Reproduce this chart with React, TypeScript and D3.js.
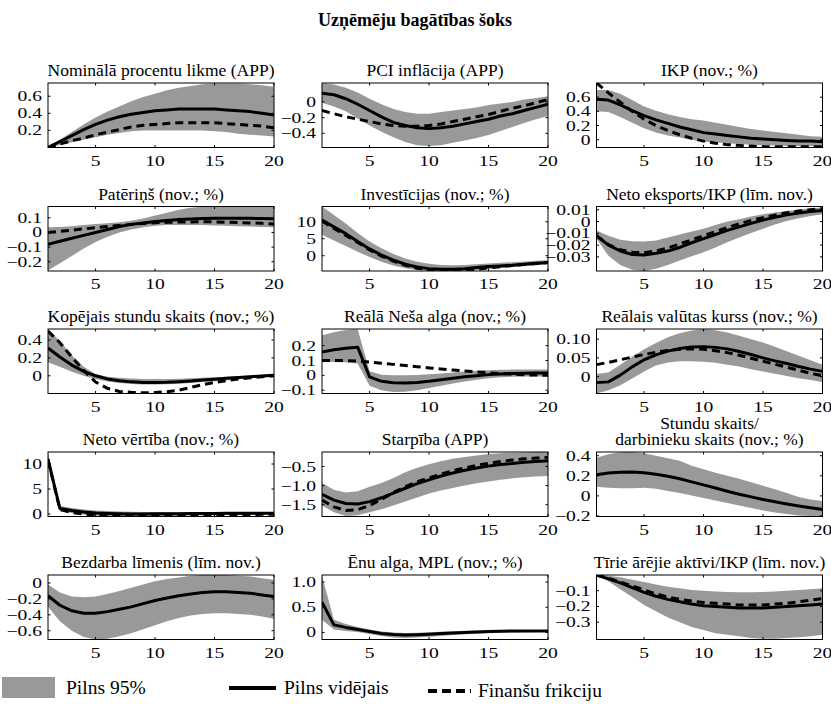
import React from 'react';
import * as d3 from 'd3';

// Horizon (quarters)
const PERIODS = [1, 2, 3, 4, 5, 6, 7, 8, 9, 10, 11, 12, 13, 14, 15, 16, 17, 18, 19, 20];
const X_TICKS = [5, 10, 15, 20];

// Nominālā procentu likme (APP)
const rateMedian = [0, 0.07, 0.14, 0.21, 0.27, 0.32, 0.36, 0.39, 0.41, 0.43, 0.44, 0.45, 0.45, 0.45, 0.45, 0.44, 0.43, 0.42, 0.40, 0.38];
const rateFriction = [0, 0.04, 0.08, 0.11, 0.15, 0.18, 0.21, 0.24, 0.26, 0.27, 0.28, 0.29, 0.29, 0.29, 0.29, 0.28, 0.27, 0.26, 0.25, 0.23];
const rateLow = [0, 0.03, 0.06, 0.09, 0.12, 0.15, 0.17, 0.19, 0.2, 0.2, 0.2, 0.2, 0.2, 0.2, 0.19, 0.18, 0.16, 0.15, 0.14, 0.13];
const rateHigh = [0, 0.09, 0.18, 0.27, 0.35, 0.42, 0.48, 0.54, 0.59, 0.63, 0.67, 0.70, 0.72, 0.74, 0.75, 0.75, 0.75, 0.74, 0.73, 0.71];
const rateRange = [0, 0.755];
const rateTicks = [0.2, 0.4, 0.6];
const rateTickLabels = ['0.2', '0.4', '0.6'];

// PCI inflācija (APP)
const cpiMedian = [0.11, 0.09, 0.04, -0.03, -0.11, -0.19, -0.26, -0.30, -0.33, -0.34, -0.33, -0.31, -0.28, -0.25, -0.22, -0.18, -0.15, -0.11, -0.07, -0.03];
const cpiFriction = [-0.11, -0.15, -0.19, -0.22, -0.25, -0.28, -0.30, -0.31, -0.31, -0.30, -0.28, -0.25, -0.22, -0.19, -0.16, -0.12, -0.08, -0.05, -0.01, 0.03];
const cpiLow = [-0.01, -0.06, -0.12, -0.21, -0.30, -0.38, -0.45, -0.51, -0.55, -0.56, -0.55, -0.52, -0.49, -0.46, -0.42, -0.37, -0.32, -0.27, -0.22, -0.18];
const cpiHigh = [0.24, 0.22, 0.18, 0.12, 0.04, -0.03, -0.09, -0.13, -0.15, -0.15, -0.13, -0.11, -0.09, -0.07, -0.04, -0.02, 0.0, 0.03, 0.05, 0.07];
const cpiRange = [-0.58, 0.24];
const cpiTicks = [-0.4, -0.2, 0];
const cpiTickLabels = ['−0.4', '−0.2', '0'];

// IKP (nov.; %)
const gdpMedian = [0.57, 0.56, 0.49, 0.41, 0.34, 0.28, 0.23, 0.18, 0.14, 0.10, 0.08, 0.06, 0.04, 0.02, 0.01, 0.0, -0.01, -0.02, -0.02, -0.03];
const gdpFriction = [0.8, 0.66, 0.53, 0.40, 0.29, 0.20, 0.13, 0.07, 0.02, -0.02, -0.05, -0.07, -0.08, -0.09, -0.1, -0.1, -0.1, -0.1, -0.1, -0.1];
const gdpLow = [0.40, 0.39, 0.32, 0.24, 0.16, 0.10, 0.06, 0.03, 0.0, -0.03, -0.04, -0.05, -0.06, -0.07, -0.08, -0.08, -0.09, -0.09, -0.09, -0.09];
const gdpHigh = [0.70, 0.70, 0.65, 0.56, 0.47, 0.41, 0.36, 0.32, 0.29, 0.27, 0.24, 0.21, 0.18, 0.15, 0.13, 0.11, 0.09, 0.07, 0.05, 0.04];
const gdpRange = [-0.11, 0.8];
const gdpTicks = [0, 0.2, 0.4, 0.6];
const gdpTickLabels = ['0', '0.2', '0.4', '0.6'];

// Patēriņš (nov.; %)
const consMedian = [-0.08, -0.06, -0.04, -0.02, 0.0, 0.02, 0.04, 0.055, 0.065, 0.075, 0.082, 0.088, 0.092, 0.095, 0.097, 0.097, 0.097, 0.096, 0.095, 0.093];
const consFriction = [0.0, 0.008, 0.016, 0.024, 0.032, 0.04, 0.048, 0.055, 0.061, 0.066, 0.069, 0.071, 0.072, 0.073, 0.072, 0.07, 0.068, 0.065, 0.062, 0.058];
const consLow = [-0.26, -0.21, -0.16, -0.11, -0.065, -0.03, 0.0, 0.02, 0.035, 0.045, 0.05, 0.05, 0.05, 0.05, 0.048, 0.045, 0.043, 0.04, 0.038, 0.035];
const consHigh = [0.035, 0.038, 0.043, 0.05, 0.057, 0.063, 0.07, 0.08, 0.095, 0.115, 0.135, 0.155, 0.168, 0.175, 0.177, 0.177, 0.177, 0.177, 0.177, 0.175];
const consRange = [-0.263, 0.177];
const consTicks = [-0.2, -0.1, 0, 0.1];
const consTickLabels = ['−0.2', '−0.1', '0', '0.1'];

// Investīcijas (nov.; %)
const invMedian = [10.5, 8.5, 6.5, 4.2, 2.0, 0.2, -1.3, -2.5, -3.3, -3.8, -4.0, -4.0, -3.8, -3.5, -3.2, -3.0, -2.8, -2.5, -2.2, -2.0];
const invFriction = [10.2, 8.0, 6.0, 3.9, 1.7, -0.1, -1.6, -2.8, -3.7, -4.2, -4.4, -4.4, -4.3, -4.0, -3.6, -3.2, -2.9, -2.6, -2.3, -2.0];
const invLow = [6.2, 4.5, 2.9, 1.2, -0.4, -1.8, -2.9, -3.7, -4.2, -4.4, -4.5, -4.5, -4.4, -4.2, -3.9, -3.6, -3.3, -3.0, -2.8, -2.6];
const invHigh = [14.5, 12, 9.5, 6.7, 4.2, 2.2, 0.5, -0.8, -1.8, -2.4, -2.7, -2.8, -2.7, -2.5, -2.3, -2.1, -1.9, -1.7, -1.5, -1.3];
const invRange = [-4.5, 14.5];
const invTicks = [0, 5, 10];
const invTickLabels = ['0', '5', '10'];

// Neto eksports/IKP (līm. nov.)
const nxMedian = [-0.012, -0.020, -0.025, -0.028, -0.0285, -0.027, -0.025, -0.022, -0.018, -0.0145, -0.011, -0.0075, -0.0045, -0.0015, 0.0013, 0.0037, 0.0057, 0.0073, 0.0085, 0.0094];
const nxFriction = [-0.012, -0.0195, -0.024, -0.026, -0.0265, -0.025, -0.0225, -0.019, -0.0155, -0.012, -0.0085, -0.005, -0.002, 0.001, 0.0033, 0.0055, 0.0075, 0.009, 0.010, 0.011];
const nxLow = [-0.0146, -0.029, -0.037, -0.041, -0.042, -0.040, -0.037, -0.033, -0.0295, -0.026, -0.022, -0.0175, -0.0135, -0.0097, -0.006, -0.0025, 0.0005, 0.0028, 0.0047, 0.0062];
const nxHigh = [-0.0075, -0.012, -0.0155, -0.0168, -0.017, -0.016, -0.0135, -0.011, -0.0085, -0.006, -0.003, 0.0, 0.002, 0.0043, 0.0062, 0.0078, 0.009, 0.0103, 0.0113, 0.012];
const nxRange = [-0.042, 0.0128];
const nxTicks = [-0.03, -0.02, -0.01, 0, 0.01];
const nxTickLabels = ['−0.03', '−0.02', '−0.01', '0', '0.01'];

// Kopējais stundu skaits (nov.; %)
const hoursMedian = [0.31, 0.21, 0.12, 0.05, 0.0, -0.035, -0.055, -0.068, -0.074, -0.075, -0.072, -0.066, -0.058, -0.048, -0.038, -0.028, -0.018, -0.01, -0.002, 0.007];
const hoursFriction = [0.50, 0.37, 0.21, 0.06, -0.07, -0.14, -0.175, -0.185, -0.19, -0.187, -0.178, -0.16, -0.13, -0.1, -0.075, -0.055, -0.037, -0.022, -0.01, 0.0];
const hoursLow = [0.15, 0.1, 0.045, 0.0, -0.037, -0.065, -0.082, -0.092, -0.097, -0.097, -0.094, -0.088, -0.08, -0.07, -0.06, -0.05, -0.038, -0.026, -0.016, -0.007];
const hoursHigh = [0.52, 0.39, 0.23, 0.1, 0.02, -0.01, -0.022, -0.03, -0.035, -0.037, -0.036, -0.033, -0.028, -0.022, -0.016, -0.01, -0.004, 0.004, 0.012, 0.02];
const hoursRange = [-0.198, 0.523];
const hoursTicks = [0, 0.2, 0.4];
const hoursTickLabels = ['0', '0.2', '0.4'];

// Reālā Neša alga (nov.; %)
const wageMedian = [0.157, 0.172, 0.183, 0.19, -0.01, -0.04, -0.05, -0.052, -0.048, -0.04, -0.03, -0.02, -0.01, -0.002, 0.005, 0.01, 0.013, 0.015, 0.016, 0.016];
const wageFriction = [0.1, 0.1, 0.099, 0.097, 0.09, 0.082, 0.074, 0.066, 0.058, 0.05, 0.043, 0.036, 0.03, 0.023, 0.017, 0.012, 0.008, 0.004, 0.002, 0.0];
const wageLow = [0.09, 0.09, 0.088, 0.08, -0.07, -0.1, -0.112, -0.11, -0.1, -0.085, -0.07, -0.055, -0.042, -0.03, -0.02, -0.013, -0.01, -0.008, -0.007, -0.007];
const wageHigh = [0.27, 0.29, 0.305, 0.31, 0.028, 0.005, 0.0, 0.0, 0.003, 0.007, 0.013, 0.02, 0.026, 0.031, 0.034, 0.037, 0.039, 0.04, 0.04, 0.04];
const wageRange = [-0.122, 0.312];
const wageTicks = [-0.1, 0, 0.1, 0.2];
const wageTickLabels = ['−0.1', '0', '0.1', '0.2'];

// Reālais valūtas kurss (nov.; %)
const rerMedian = [-0.016, -0.014, 0.004, 0.026, 0.045, 0.058, 0.068, 0.075, 0.079, 0.08, 0.078, 0.074, 0.067, 0.059, 0.05, 0.042, 0.035, 0.027, 0.02, 0.014];
const rerFriction = [0.032, 0.038, 0.045, 0.052, 0.059, 0.065, 0.07, 0.073, 0.074, 0.073, 0.069, 0.064, 0.057, 0.049, 0.041, 0.033, 0.025, 0.017, 0.009, 0.002];
const rerLow = [-0.045, -0.036, -0.023, -0.005, 0.014, 0.03, 0.038, 0.041, 0.041, 0.04, 0.037, 0.032, 0.027, 0.02, 0.014, 0.008, 0.002, -0.004, -0.009, -0.014];
const rerHigh = [0.007, 0.011, 0.032, 0.053, 0.073, 0.09, 0.105, 0.116, 0.123, 0.127, 0.124, 0.118, 0.109, 0.1, 0.091, 0.08, 0.068, 0.056, 0.044, 0.032];
const rerRange = [-0.045, 0.127];
const rerTicks = [0, 0.05, 0.1];
const rerTickLabels = ['0', '0.05', '0.10'];

// Neto vērtība (nov.; %)
const nwMedian = [11.0, 1.1, 0.7, 0.4, 0.2, 0.1, 0.05, 0.02, 0.02, 0.03, 0.05, 0.07, 0.09, 0.1, 0.12, 0.13, 0.14, 0.15, 0.16, 0.17];
const nwFriction = [10.8, 0.9, 0.3, 0.0, -0.2, -0.3, -0.35, -0.35, -0.33, -0.3, -0.27, -0.24, -0.21, -0.18, -0.15, -0.13, -0.11, -0.09, -0.07, -0.05];
const nwLow = [9.8, 0.6, 0.2, -0.1, -0.3, -0.4, -0.45, -0.45, -0.43, -0.4, -0.37, -0.33, -0.3, -0.27, -0.24, -0.21, -0.18, -0.15, -0.12, -0.1];
const nwHigh = [12.3, 1.6, 1.2, 0.9, 0.7, 0.6, 0.5, 0.45, 0.4, 0.38, 0.36, 0.35, 0.34, 0.33, 0.32, 0.32, 0.31, 0.31, 0.3, 0.3];
const nwRange = [-0.5, 12.4];
const nwTicks = [0, 5, 10];
const nwTickLabels = ['0', '5', '10'];

// Starpība (APP)
const spreadMedian = [-1.23, -1.38, -1.47, -1.48, -1.42, -1.32, -1.2, -1.07, -0.95, -0.85, -0.75, -0.67, -0.6, -0.54, -0.49, -0.45, -0.42, -0.39, -0.37, -0.35];
const spreadFriction = [-1.38, -1.56, -1.65, -1.63, -1.52, -1.36, -1.18, -1.03, -0.9, -0.8, -0.7, -0.61, -0.54, -0.47, -0.42, -0.37, -0.33, -0.3, -0.28, -0.26];
const spreadLow = [-1.52, -1.7, -1.8, -1.78, -1.7, -1.62, -1.52, -1.42, -1.31, -1.21, -1.13, -1.06, -1.0, -0.94, -0.89, -0.85, -0.81, -0.78, -0.76, -0.75];
const spreadHigh = [-0.93, -1.11, -1.18, -1.15, -1.03, -0.93, -0.8, -0.65, -0.53, -0.44, -0.36, -0.3, -0.25, -0.21, -0.17, -0.15, -0.14, -0.13, -0.12, -0.12];
const spreadRange = [-1.81, -0.12];
const spreadTicks = [-1.5, -1.0, -0.5];
const spreadTickLabels = ['−1.5', '−1.0', '−0.5'];

// Stundu skaits / darbinieku skaits (nov.; %)
const intMedian = [0.21, 0.228, 0.236, 0.237, 0.23, 0.215, 0.195, 0.17, 0.14, 0.11, 0.078, 0.047, 0.017, -0.01, -0.035, -0.058, -0.08, -0.1, -0.118, -0.135];
const intLow = [0.09, 0.08, 0.075, 0.077, 0.08, 0.07, 0.05, 0.03, 0.005, -0.02, -0.045, -0.07, -0.095, -0.12, -0.145, -0.165, -0.18, -0.195, -0.2, -0.205];
const intHigh = [0.38, 0.415, 0.435, 0.437, 0.425, 0.4, 0.375, 0.35, 0.3, 0.265, 0.23, 0.2, 0.17, 0.135, 0.1, 0.065, 0.03, -0.01, -0.035, -0.05];
const intRange = [-0.205, 0.437];
const intTicks = [-0.2, 0, 0.2, 0.4];
const intTickLabels = ['−0.2', '0', '0.2', '0.4'];

// Bezdarba līmenis (līm. nov.)
const unempMedian = [-0.16, -0.28, -0.35, -0.38, -0.38, -0.36, -0.33, -0.3, -0.26, -0.22, -0.19, -0.16, -0.14, -0.12, -0.11, -0.11, -0.12, -0.13, -0.15, -0.17];
const unempLow = [-0.3, -0.48, -0.6, -0.68, -0.71, -0.7, -0.67, -0.63, -0.58, -0.53, -0.48, -0.44, -0.41, -0.39, -0.38, -0.38, -0.39, -0.4, -0.42, -0.45];
const unempHigh = [-0.02, -0.12, -0.17, -0.18, -0.17, -0.14, -0.1, -0.06, -0.02, 0.02, 0.05, 0.07, 0.09, 0.1, 0.1, 0.1, 0.09, 0.08, 0.06, 0.04];
const unempRange = [-0.71, 0.1];
const unempTicks = [-0.6, -0.4, -0.2, 0];
const unempTickLabels = ['−0.6', '−0.4', '−0.2', '0'];

// Ēnu alga, MPL (nov.; %)
const mplMedian = [0.6, 0.15, 0.1, 0.06, 0.02, -0.02, -0.04, -0.05, -0.045, -0.035, -0.02, -0.01, 0.0, 0.01, 0.02, 0.025, 0.028, 0.03, 0.03, 0.03];
const mplLow = [0.25, 0.06, 0.03, 0.01, -0.03, -0.07, -0.1, -0.11, -0.1, -0.085, -0.07, -0.05, -0.035, -0.025, -0.015, -0.005, 0.0, 0.005, 0.01, 0.01];
const mplHigh = [1.12, 0.25, 0.17, 0.11, 0.06, 0.02, 0.0, -0.01, -0.005, 0.005, 0.015, 0.025, 0.035, 0.04, 0.045, 0.05, 0.05, 0.05, 0.05, 0.05];
const mplRange = [-0.14, 1.14];
const mplTicks = [0, 0.5, 1.0];
const mplTickLabels = ['0', '0.5', '1.0'];

// Tīrie ārējie aktīvi/IKP (līm. nov.)
const nfaMedian = [0.0, -0.025, -0.05, -0.08, -0.11, -0.135, -0.155, -0.17, -0.185, -0.195, -0.2, -0.205, -0.21, -0.21, -0.21, -0.205, -0.2, -0.195, -0.19, -0.185];
const nfaFriction = [0.0, -0.02, -0.045, -0.07, -0.095, -0.12, -0.14, -0.155, -0.165, -0.175, -0.18, -0.185, -0.19, -0.19, -0.19, -0.185, -0.18, -0.17, -0.16, -0.15];
const nfaLow = [0.0, -0.04, -0.09, -0.14, -0.19, -0.23, -0.27, -0.3, -0.33, -0.35, -0.37, -0.38, -0.39, -0.4, -0.405, -0.405, -0.4, -0.395, -0.39, -0.38];
const nfaHigh = [0.0, -0.005, -0.015, -0.03, -0.045, -0.06, -0.075, -0.085, -0.095, -0.1, -0.105, -0.108, -0.11, -0.11, -0.108, -0.105, -0.1, -0.095, -0.09, -0.085];
const nfaRange = [-0.41, 0];
const nfaTicks = [-0.3, -0.2, -0.1];
const nfaTickLabels = ['−0.3', '−0.2', '−0.1'];

type PanelSpec = {
  title: string[];
  range: number[];
  ticks: number[];
  tickLabels: string[];
  median: number[];
  friction?: number[];
  low: number[];
  high: number[];
};

const panels: PanelSpec[] = [
  { title: ['Nominālā procentu likme (APP)'], range: rateRange, ticks: rateTicks, tickLabels: rateTickLabels, median: rateMedian, friction: rateFriction, low: rateLow, high: rateHigh },
  { title: ['PCI inflācija (APP)'], range: cpiRange, ticks: cpiTicks, tickLabels: cpiTickLabels, median: cpiMedian, friction: cpiFriction, low: cpiLow, high: cpiHigh },
  { title: ['IKP (nov.; %)'], range: gdpRange, ticks: gdpTicks, tickLabels: gdpTickLabels, median: gdpMedian, friction: gdpFriction, low: gdpLow, high: gdpHigh },
  { title: ['Patēriņš (nov.; %)'], range: consRange, ticks: consTicks, tickLabels: consTickLabels, median: consMedian, friction: consFriction, low: consLow, high: consHigh },
  { title: ['Investīcijas (nov.; %)'], range: invRange, ticks: invTicks, tickLabels: invTickLabels, median: invMedian, friction: invFriction, low: invLow, high: invHigh },
  { title: ['Neto eksports/IKP (līm. nov.)'], range: nxRange, ticks: nxTicks, tickLabels: nxTickLabels, median: nxMedian, friction: nxFriction, low: nxLow, high: nxHigh },
  { title: ['Kopējais stundu skaits (nov.; %)'], range: hoursRange, ticks: hoursTicks, tickLabels: hoursTickLabels, median: hoursMedian, friction: hoursFriction, low: hoursLow, high: hoursHigh },
  { title: ['Reālā Neša alga (nov.; %)'], range: wageRange, ticks: wageTicks, tickLabels: wageTickLabels, median: wageMedian, friction: wageFriction, low: wageLow, high: wageHigh },
  { title: ['Reālais valūtas kurss (nov.; %)'], range: rerRange, ticks: rerTicks, tickLabels: rerTickLabels, median: rerMedian, friction: rerFriction, low: rerLow, high: rerHigh },
  { title: ['Neto vērtība (nov.; %)'], range: nwRange, ticks: nwTicks, tickLabels: nwTickLabels, median: nwMedian, friction: nwFriction, low: nwLow, high: nwHigh },
  { title: ['Starpība (APP)'], range: spreadRange, ticks: spreadTicks, tickLabels: spreadTickLabels, median: spreadMedian, friction: spreadFriction, low: spreadLow, high: spreadHigh },
  { title: ['Stundu skaits/', 'darbinieku skaits (nov.; %)'], range: intRange, ticks: intTicks, tickLabels: intTickLabels, median: intMedian, low: intLow, high: intHigh },
  { title: ['Bezdarba līmenis (līm. nov.)'], range: unempRange, ticks: unempTicks, tickLabels: unempTickLabels, median: unempMedian, low: unempLow, high: unempHigh },
  { title: ['Ēnu alga, MPL (nov.; %)'], range: mplRange, ticks: mplTicks, tickLabels: mplTickLabels, median: mplMedian, low: mplLow, high: mplHigh },
  { title: ['Tīrie ārējie aktīvi/IKP (līm. nov.)'], range: nfaRange, ticks: nfaTicks, tickLabels: nfaTickLabels, median: nfaMedian, friction: nfaFriction, low: nfaLow, high: nfaHigh },
];

const LEGEND = ['Pilns 95%', 'Pilns vidējais', 'Finanšu frikciju'];
const MAIN_TITLE = 'Uzņēmēju bagātības šoks';

const FONT = "'Liberation Serif', 'Times New Roman', Times, 'DejaVu Serif', serif";
const BAND = '#999999';
const W = 831;
const H = 704;
const COL_X = [48, 322, 596.5];
const ROW_Y = [83, 206.5, 329, 452, 575];
const BOX_W = 226;
const BOX_H = 64.5;
const TICK_FS = 14.5;
const TICK_SX = 1.35;
const TICK_LEN = 2.5;

const textStyle: React.CSSProperties = { fontFamily: FONT };

function TickText({ x, y, anchor, children }: { x: number; y: number; anchor: 'start' | 'middle' | 'end'; children: React.ReactNode }) {
  return (
    <text transform={`translate(${x},${y}) scale(${TICK_SX},1)`} textAnchor={anchor} fontSize={TICK_FS} style={textStyle} fill="#000">
      {children}
    </text>
  );
}

function Panel({ spec, idx }: { spec: PanelSpec; idx: number }) {
  const x0 = COL_X[idx % 3];
  const y0 = ROW_Y[Math.floor(idx / 3)];
  const x = d3.scaleLinear().domain([1, 20]).range([x0, x0 + BOX_W]);
  const y = d3.scaleLinear().domain(spec.range).range([y0 + BOX_H, y0]);

  const band = d3
    .area<number>()
    .x((_, i) => x(PERIODS[i]))
    .y0((_, i) => y(spec.low[i]))
    .y1((_, i) => y(spec.high[i]))(spec.high);
  const line = d3
    .line<number>()
    .x((_, i) => x(PERIODS[i]))
    .y((d) => y(d));

  const clipId = `clip-${idx}`;
  const cx = x0 + BOX_W / 2;
  const titleLines = spec.title;

  return (
    <g>
      <defs>
        <clipPath id={clipId}>
          <rect x={x0} y={y0} width={BOX_W} height={BOX_H} />
        </clipPath>
      </defs>
      {titleLines.map((t, i) => (
        <text
          key={i}
          x={cx}
          y={y0 - 7 - (titleLines.length - 1 - i) * 16}
          textAnchor="middle"
          fontSize={17.5}
          style={textStyle}
          fill="#000"
        >
          {t}
        </text>
      ))}
      <g clipPath={`url(#${clipId})`}>
        <path d={band || ''} fill={BAND} stroke="none" />
        <path d={line(spec.median) || ''} fill="none" stroke="#000" strokeWidth={3} strokeLinejoin="round" />
        {spec.friction && (
          <path d={line(spec.friction) || ''} fill="none" stroke="#000" strokeWidth={3} strokeDasharray="8,5" />
        )}
      </g>
      <rect x={x0} y={y0} width={BOX_W} height={BOX_H} fill="none" stroke="#000" strokeWidth={1} />
      {X_TICKS.map((t) => (
        <g key={`xt${t}`}>
          <line x1={x(t)} x2={x(t)} y1={y0 + BOX_H} y2={y0 + BOX_H - TICK_LEN} stroke="#000" />
          <line x1={x(t)} x2={x(t)} y1={y0} y2={y0 + TICK_LEN} stroke="#000" />
          <TickText x={x(t)} y={y0 + BOX_H + 18} anchor="middle">
            {t}
          </TickText>
        </g>
      ))}
      {spec.ticks.map((t, i) => (
        <g key={`yt${i}`}>
          <line x1={x0} x2={x0 + TICK_LEN} y1={y(t)} y2={y(t)} stroke="#000" />
          <line x1={x0 + BOX_W} x2={x0 + BOX_W - TICK_LEN} y1={y(t)} y2={y(t)} stroke="#000" />
          <TickText x={x0 - 6} y={y(t) + 5} anchor="end">
            {spec.tickLabels[i]}
          </TickText>
        </g>
      ))}
    </g>
  );
}

export default function App() {
  return (
    <svg width={W} height={H} style={{ position: 'absolute', left: 0, top: 0, background: '#fff' }}>
      <rect x={0} y={0} width={W} height={H} fill="#fff" />
      <text x={415} y={26} textAnchor="middle" fontSize={18} fontWeight="bold" style={textStyle} fill="#000">
        {MAIN_TITLE}
      </text>
      {panels.map((p, i) => (
        <Panel key={i} spec={p} idx={i} />
      ))}
      <g>
        <rect x={2} y={677} width={53} height={21} fill={BAND} />
        <text x={66} y={694} fontSize={19.5} style={textStyle} fill="#000">
          {LEGEND[0]}
        </text>
        <line x1={229} x2={276} y1={688} y2={688} stroke="#000" strokeWidth={4} />
        <text x={284} y={694} fontSize={19.5} style={textStyle} fill="#000">
          {LEGEND[1]}
        </text>
        <line x1={428} x2={471} y1={691} y2={691} stroke="#000" strokeWidth={4} strokeDasharray="9,5" />
        <text x={478} y={697} fontSize={19.5} style={textStyle} fill="#000">
          {LEGEND[2]}
        </text>
      </g>
    </svg>
  );
}
